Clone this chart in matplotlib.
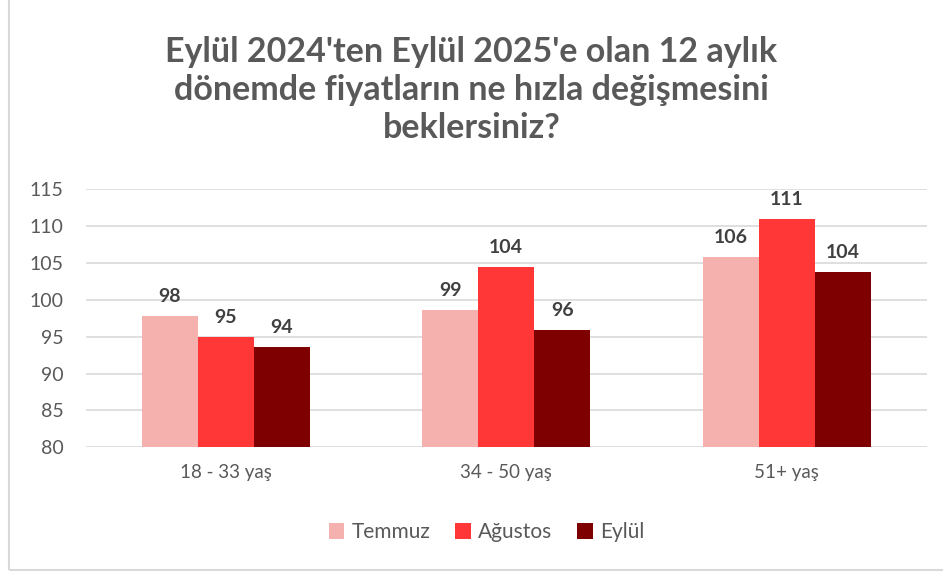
import numpy as np
import matplotlib
matplotlib.use("Agg")
import matplotlib.pyplot as plt
from matplotlib.patches import Rectangle

# veri
kategoriler = ["18 - 33 yaş", "34 - 50 yaş", "51+ yaş"]
seriler = ["Temmuz", "Ağustos", "Eylül"]
temmuz = [97.8, 98.6, 105.8]
agustos = [95.0, 104.4, 110.9]
eylul = [93.6, 95.9, 103.8]
renkler = ["#F5B1AD", "#FF3737", "#7F0000"]
baslik = "Eylül 2024'ten Eylül 2025'e olan 12 aylık\ndönemde fiyatların ne hızla değişmesini\nbeklersiniz?"

plt.rcParams['font.family'] = ['Lato', 'DejaVu Sans']

fig = plt.figure(figsize=(9.43, 5.71), dpi=100)
ax = fig.add_axes([0.0907, 0.2166, 0.8923, 0.4524])

# çerçeve
fig.patches.append(Rectangle((8.5 / 943, 1.5 / 571), 1.0, 1.0, transform=fig.transFigure,
                             fill=False, edgecolor="#D9D9D9", linewidth=1.5))

x = np.arange(len(kategoriler))
w = 0.2
for i, (ad, deger) in enumerate(zip(seriler, [temmuz, agustos, eylul])):
    bars = ax.bar(x + (i - 1) * w, np.array(deger) - 80, w, bottom=80,
                  color=renkler[i], label=ad, zorder=3)
    for b, v in zip(bars, deger):
        ax.text(b.get_x() + b.get_width() / 2, v + 1.5, "%.0f" % v,
                ha="center", va="bottom", fontsize=14, fontweight="bold",
                color="#404040")

ax.set_xlim(-0.5, 2.5)
ax.set_ylim(80, 115)
ax.set_yticks(range(80, 116, 5))
ax.set_xticks(x)
ax.set_xticklabels(kategoriler)
ax.yaxis.grid(True, color="#D9D9D9", linewidth=1.2, zorder=0)
ax.set_axisbelow(True)
for s in ax.spines.values():
    s.set_visible(False)
ax.tick_params(axis="both", length=0, colors="#595959", labelsize=14)
ax.tick_params(axis="y", pad=16)
ax.tick_params(axis="x", labelsize=13.5, pad=12)

fig.text(0.5, 0.842, baslik, ha="center", va="center", fontsize=24.5,
         fontweight="bold", color="#595959", linespacing=1.22)

leg = fig.legend(loc="center", bbox_to_anchor=(0.516, 0.068), ncol=3, frameon=False,
                 fontsize=15, handlelength=0.75, handleheight=0.75,
                 handletextpad=0.35, columnspacing=1.2)
for t in leg.get_texts():
    t.set_color("#595959")

fig.savefig("out.png", dpi=100)
